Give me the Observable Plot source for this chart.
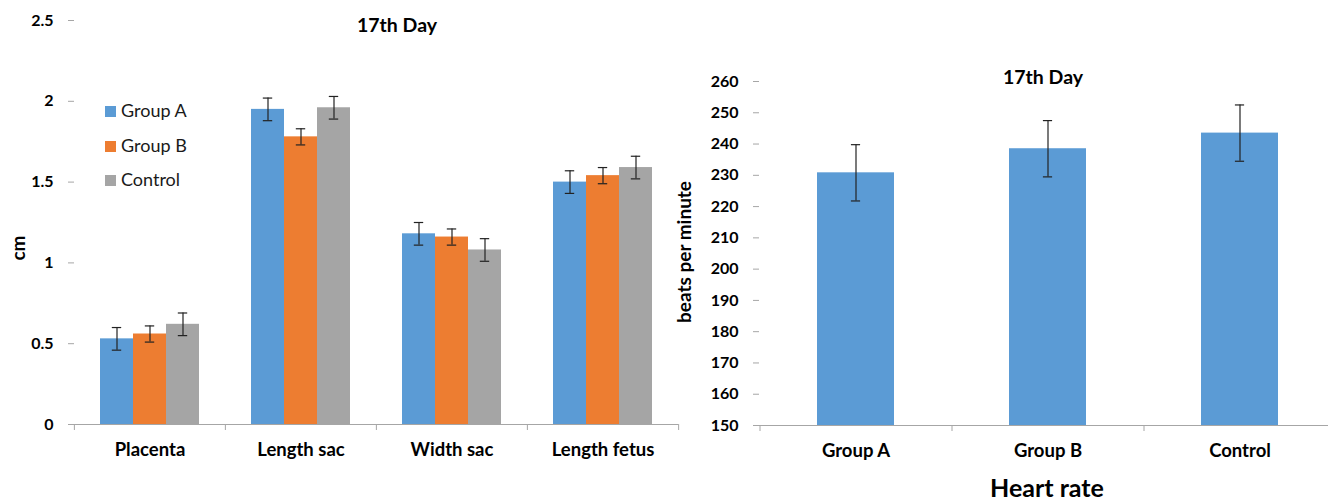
<!DOCTYPE html>
<html><head><meta charset="utf-8">
<script src="https://cdn.jsdelivr.net/npm/d3@7"></script>
<script src="https://cdn.jsdelivr.net/npm/@observablehq/plot@0.6"></script>
<style>
body{margin:0;background:#fff;font-family:Lato,"Open Sans",sans-serif;}
#wrap{position:relative;width:1328px;height:502px;overflow:hidden;background:#fff}
#left{position:absolute;left:0;top:0}
#right{position:absolute;left:680px;top:0}
.t{position:absolute;font-weight:700;color:#000;white-space:nowrap;line-height:1}
.c{transform:translate(-50%,-50%)}
.rot{transform:translate(-50%,-50%) rotate(-90deg)}
.lg{position:absolute;left:105px;font-size:18px;color:#1a1a1a;line-height:1;white-space:nowrap}
.lg span.sw{display:inline-block;width:11px;height:11px;margin-right:5px;vertical-align:0px}
</style></head>
<body>
<div id="wrap">
  <div id="left"></div>
  <div id="right"></div>
</div>
<script>
// ---- left chart data ----
const categories = ["Placenta", "Length sac", "Width sac", "Length fetus"];
const groups = ["Group A", "Group B", "Control"];
const groupColors = ["#5B9BD5", "#ED7D31", "#A5A5A5"];
const groupAValues = [0.53, 1.95, 1.18, 1.50];
const groupAErrors = [0.07, 0.07, 0.07, 0.07];
const groupBValues = [0.56, 1.78, 1.16, 1.54];
const groupBErrors = [0.05, 0.05, 0.05, 0.05];
const controlValues = [0.62, 1.96, 1.08, 1.59];
const controlErrors = [0.07, 0.07, 0.07, 0.07];
const cmTicks = [0, 0.5, 1, 1.5, 2, 2.5];
const cmTickLabels = ["0", "0.5", "1", "1.5", "2", "2.5"];
const leftTitle = "17th Day";
const leftYLabel = "cm";

// ---- right chart data ----
const hrGroups = ["Group A", "Group B", "Control"];
const hrValues = [230.8, 238.5, 243.5];
const hrErrors = [9, 9, 9];
const hrTicks = [150, 160, 170, 180, 190, 200, 210, 220, 230, 240, 250, 260];
const rightTitle = "17th Day";
const rightYLabel = "beats per minute";
const rightXLabel = "Heart rate";

const axisGray = "#a6a6a6";
const errColor = "#222";
const yTickSize = 16;
const xLabelSize = 18.5;

// build tables
const seriesValues = [groupAValues, groupBValues, controlValues];
const seriesErrors = [groupAErrors, groupBErrors, controlErrors];
const leftData = [];
categories.forEach((c, ci) => groups.forEach((g, gi) => {
  leftData.push({category: c, group: g, value: seriesValues[gi][ci], err: seriesErrors[gi][ci]});
}));
const hrData = hrGroups.map((g, i) => ({group: g, value: hrValues[i], err: hrErrors[i]}));

// left layout
const LW = 680, LH = 502, LML = 73, LMR = 2, LMT = 20, LMB = 78;
const facetBand = (LW - LML - LMR) / categories.length;
const xOuter = 0.75;
const xStep = facetBand / (groups.length + 2 * xOuter);
const leftCap = (xStep - 10) / 2;

const left = Plot.plot({
  width: LW, height: LH,
  marginLeft: LML, marginRight: LMR, marginTop: LMT, marginBottom: LMB,
  style: {fontFamily: "Lato, 'Open Sans', sans-serif", fontSize: yTickSize + "px", fontWeight: 700, color: "#000", background: "#fff"},
  fx: {domain: categories, padding: 0, label: null},
  x: {domain: groups, paddingInner: 0, paddingOuter: xOuter, axis: null},
  y: {domain: [0, 2.5], label: null},
  color: {domain: groups, range: groupColors},
  marks: [
    Plot.axisY({ticks: cmTicks, tickFormat: d => cmTickLabels[cmTicks.indexOf(d)], tickSize: 6, tickPadding: 15, stroke: axisGray, fill: "#000", line: true, label: null, fontSize: yTickSize}),
    Plot.axisFx({anchor: "bottom", tickSize: 0, tickPadding: 18, label: null, fill: "#000", fontSize: xLabelSize}),
    Plot.axisFx({anchor: "bottom", tickSize: 6, tickFormat: () => "", label: null, stroke: axisGray, dx: -facetBand / 2}),
    Plot.axisFx({anchor: "bottom", ticks: [categories[categories.length - 1]], tickSize: 6, tickFormat: () => "", label: null, stroke: axisGray, dx: facetBand / 2}),
    Plot.barY(leftData, {fx: "category", x: "group", y: "value", fill: "group"}),
    Plot.ruleY([0], {stroke: axisGray}),
    Plot.ruleX(leftData, {fx: "category", x: "group", y1: d => d.value - d.err, y2: d => d.value + d.err, stroke: errColor, strokeWidth: 1.2}),
    Plot.tickY(leftData, {fx: "category", x: "group", y: d => d.value - d.err, stroke: errColor, strokeWidth: 1.2, insetLeft: leftCap, insetRight: leftCap}),
    Plot.tickY(leftData, {fx: "category", x: "group", y: d => d.value + d.err, stroke: errColor, strokeWidth: 1.2, insetLeft: leftCap, insetRight: leftCap})
  ]
});
document.getElementById("left").appendChild(left);

// right layout
const RW = 648, RH = 502, RML = 79, RMR = 0, RMT = 81, RMB = 77;
const hrStep = 192;
const hrRange = [RML, RML + hrStep * hrGroups.length];
const hrPadInner = 0.6;
const hrCap = (hrStep * (1 - hrPadInner) - 9) / 2;

const right = Plot.plot({
  width: RW, height: RH,
  marginLeft: RML, marginRight: RMR, marginTop: RMT, marginBottom: RMB,
  style: {fontFamily: "Lato, 'Open Sans', sans-serif", fontSize: yTickSize + "px", fontWeight: 700, color: "#000", background: "#fff"},
  x: {domain: hrGroups, range: hrRange, paddingInner: hrPadInner, paddingOuter: hrPadInner / 2, label: null},
  y: {domain: [hrTicks[0], hrTicks[hrTicks.length - 1]], label: null},
  marks: [
    Plot.axisY({ticks: hrTicks, tickSize: 6, tickPadding: 15, stroke: axisGray, fill: "#000", line: true, label: null, fontSize: yTickSize}),
    Plot.axisX({tickSize: 0, tickPadding: 18, label: null, fill: "#000", fontSize: xLabelSize}),
    Plot.axisX({tickSize: 6, tickFormat: () => "", label: null, stroke: axisGray, dx: -hrStep / 2}),
    Plot.barY(hrData, {x: "group", y1: () => hrTicks[0], y2: "value", fill: groupColors[0]}),
    Plot.ruleY([hrTicks[0]], {stroke: axisGray}),
    Plot.ruleX(hrData, {x: "group", y1: d => d.value - d.err, y2: d => d.value + d.err, stroke: errColor, strokeWidth: 1.2}),
    Plot.tickY(hrData, {x: "group", y: d => d.value - d.err, stroke: errColor, strokeWidth: 1.2, insetLeft: hrCap, insetRight: hrCap}),
    Plot.tickY(hrData, {x: "group", y: d => d.value + d.err, stroke: errColor, strokeWidth: 1.2, insetLeft: hrCap, insetRight: hrCap})
  ]
});
document.getElementById("right").appendChild(right);

// overlay texts
const wrap = document.getElementById("wrap");
function addText(txt, x, y, size, cls) {
  const d = document.createElement("div");
  d.className = "t " + cls;
  d.style.left = x + "px"; d.style.top = y + "px"; d.style.fontSize = size + "px";
  d.textContent = txt;
  wrap.appendChild(d);
}
addText(leftTitle, 397, 25, 19.5, "c");
addText(leftYLabel, 17, 248, 19, "rot");
addText(rightTitle, 1043, 77, 19.5, "c");
addText(rightYLabel, 683, 252, 19, "rot");
addText(rightXLabel, 1047, 487, 25, "c");

// legend
const legendTops = [101, 136, 170];
groups.forEach((g, i) => {
  const d = document.createElement("div");
  d.className = "lg";
  d.style.top = legendTops[i] + "px";
  const sw = document.createElement("span");
  sw.className = "sw"; sw.style.background = groupColors[i];
  d.appendChild(sw);
  d.appendChild(document.createTextNode(g));
  wrap.appendChild(d);
});
</script>
</body></html>
